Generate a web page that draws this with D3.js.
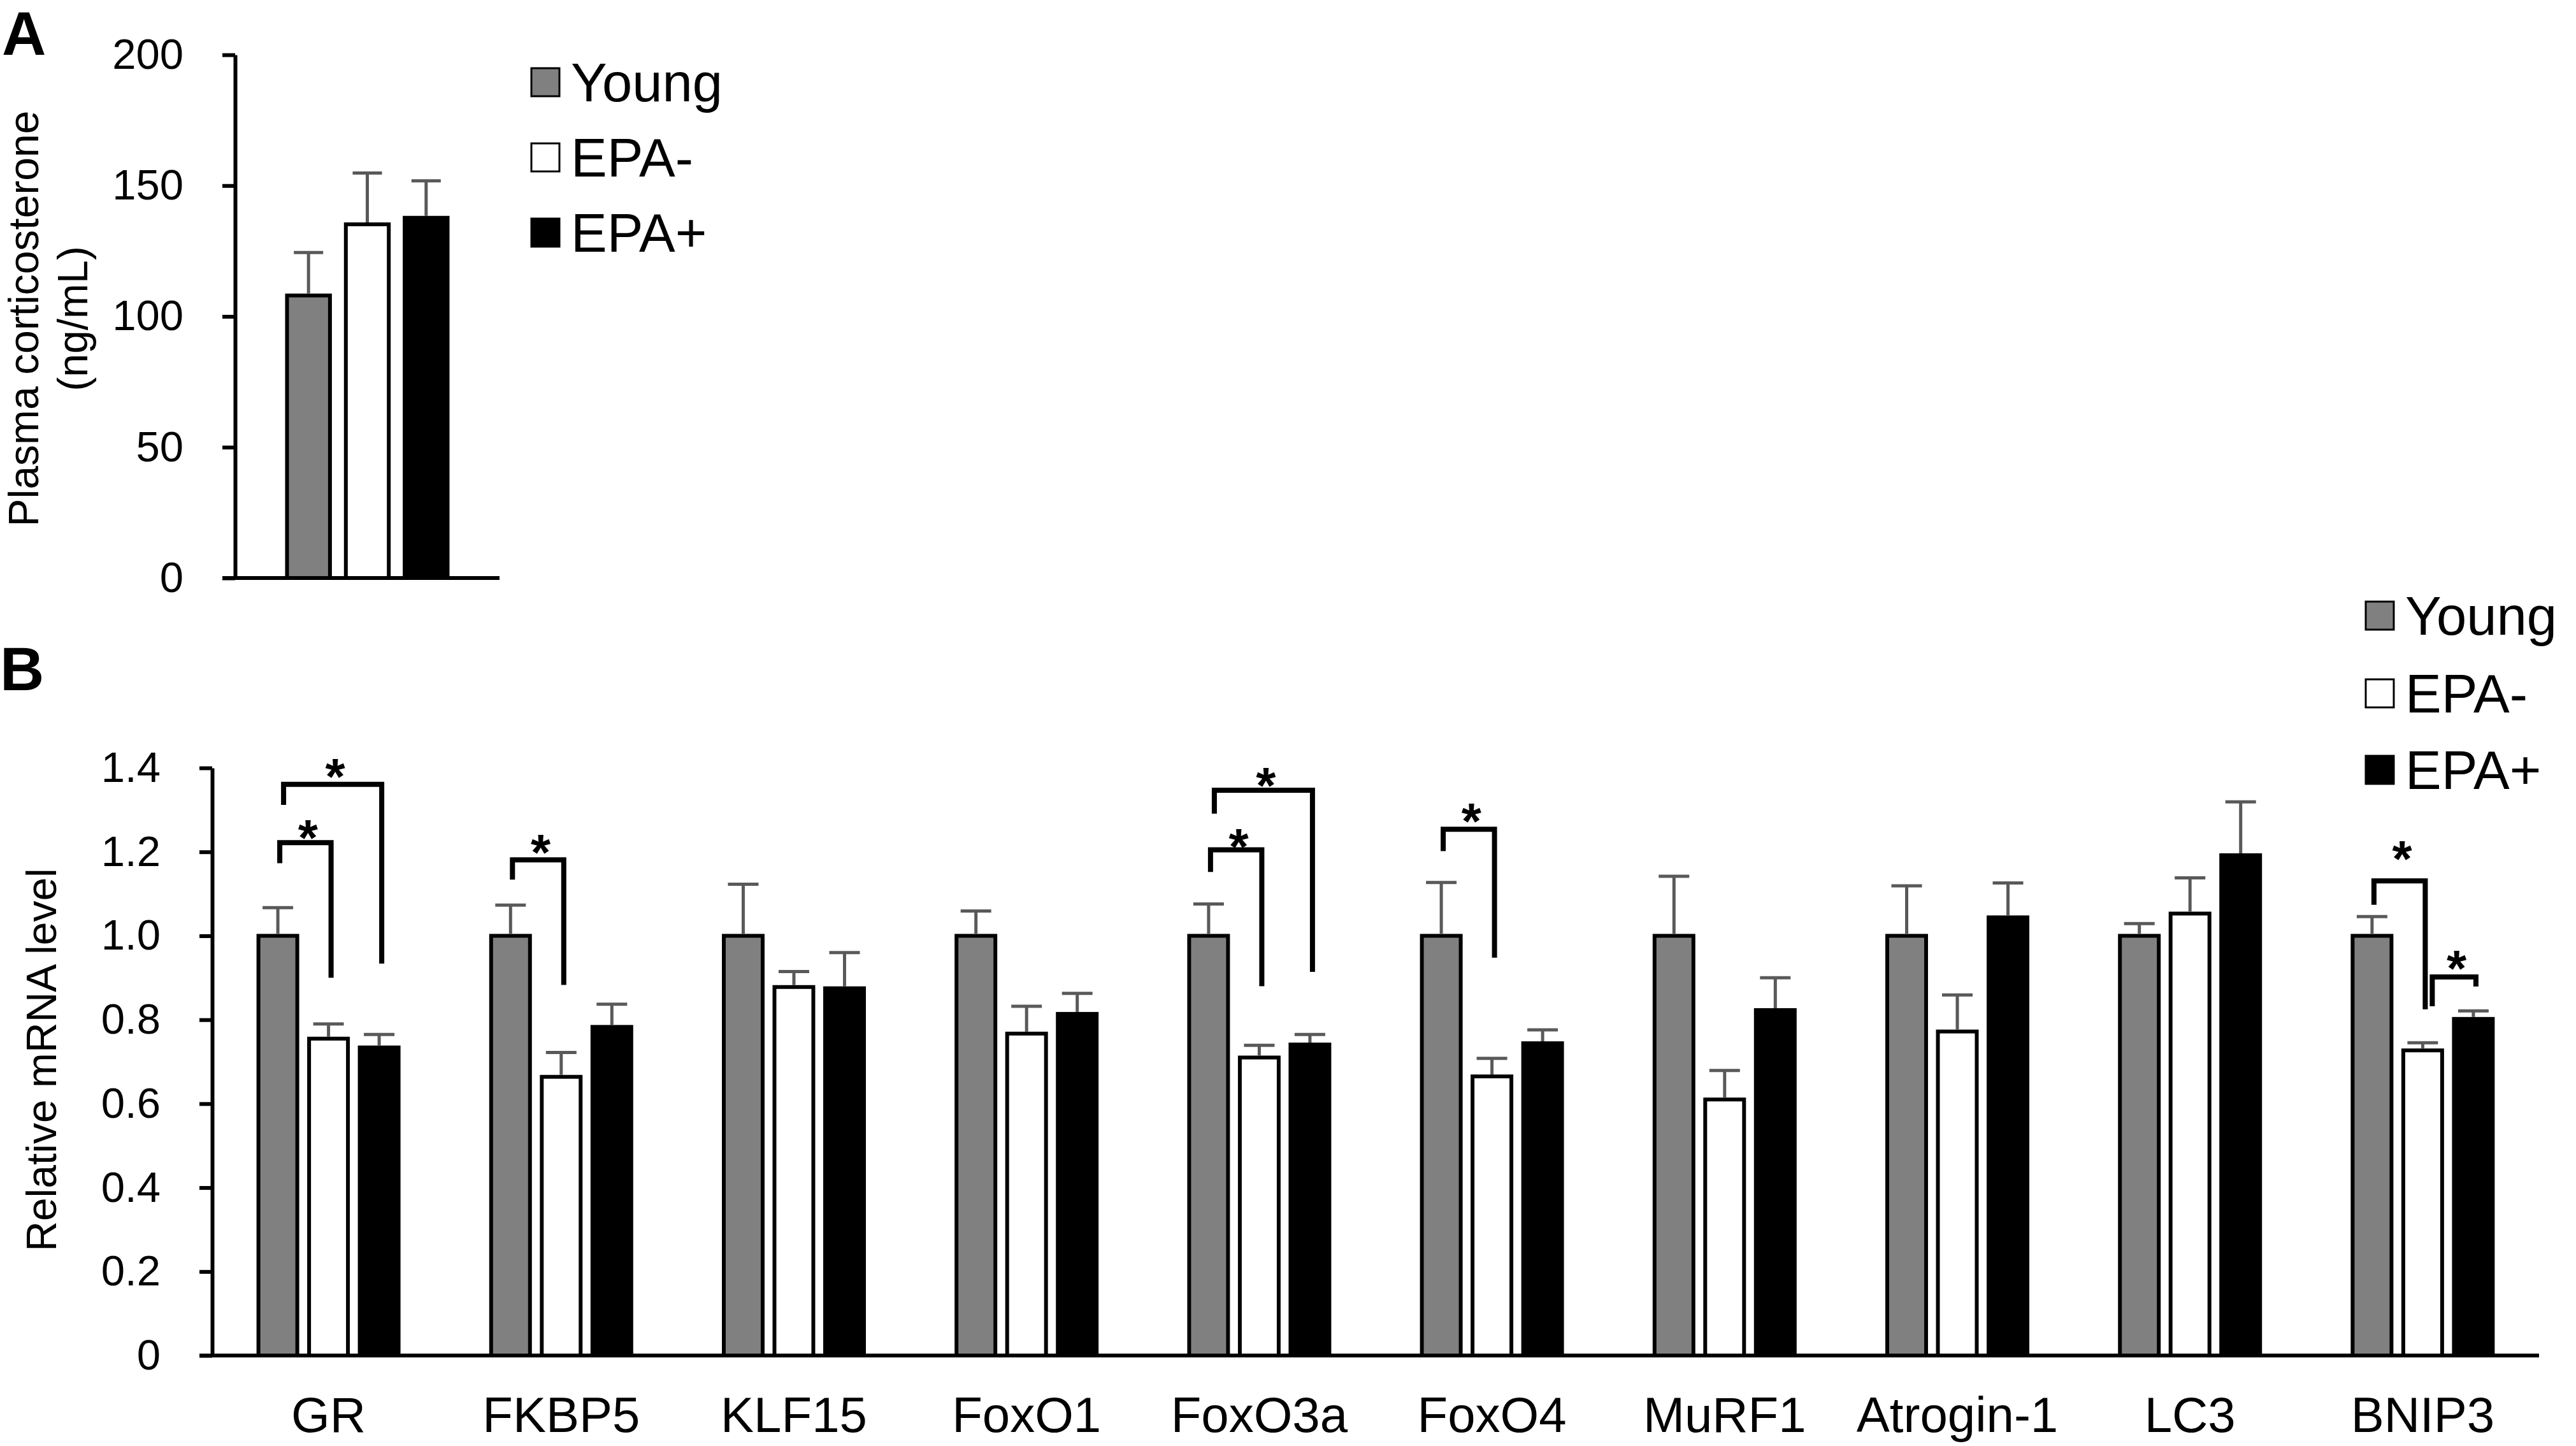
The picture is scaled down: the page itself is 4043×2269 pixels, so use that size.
<!DOCTYPE html>
<html><head><meta charset="utf-8">
<script src="https://cdn.jsdelivr.net/npm/d3@7"></script>
<style>
body{margin:0;background:#fff}
svg{display:block;background:#fff}
text{font-family:"Liberation Sans",Arial,Helvetica,sans-serif;fill:#000}
</style>
</head><body>
<svg id="chart" width="4043" height="2269"></svg>
<script>
// ---------- DATA ----------
const series = ["Young", "EPA-", "EPA+"];

// Panel A: plasma corticosterone (ng/mL)
const aMeans = [108.0, 135.2, 137.7];
const aSE    = [16.4, 19.6, 14.1];
const aTicks = [0, 50, 100, 150, 200];

// Panel B: relative mRNA level
const genes = ["GR", "FKBP5", "KLF15", "FoxO1", "FoxO3a", "FoxO4", "MuRF1", "Atrogin-1", "LC3", "BNIP3"];
const youngMeans    = [1.00, 1.00, 1.00, 1.00, 1.00, 1.00, 1.00, 1.00, 1.00, 1.00];
const youngSE       = [0.067, 0.073, 0.123, 0.059, 0.076, 0.127, 0.142, 0.119, 0.029, 0.046];
const epaMinusMeans = [0.755, 0.664, 0.878, 0.767, 0.710, 0.665, 0.610, 0.772, 1.053, 0.727];
const epaMinusSE    = [0.035, 0.058, 0.037, 0.065, 0.029, 0.043, 0.069, 0.087, 0.085, 0.018];
const epaPlusMeans  = [0.734, 0.783, 0.875, 0.814, 0.741, 0.744, 0.823, 1.044, 1.192, 0.802];
const epaPlusSE     = [0.031, 0.054, 0.085, 0.049, 0.024, 0.032, 0.077, 0.082, 0.127, 0.019];
const bTicks = [0, 0.2, 0.4, 0.6, 0.8, 1.0, 1.2, 1.4];

// significance brackets (value units): from/to = series index
const brackets = [
  {gene: "GR",     from: 0, to: 1, top: 1.222, left: 1.173, right: 0.900, star: 1.259},
  {gene: "GR",     from: 0, to: 2, top: 1.361, left: 1.312, right: 0.934, star: 1.405},
  {gene: "FKBP5",  from: 0, to: 1, top: 1.181, left: 1.134, right: 0.883, star: 1.224},
  {gene: "FoxO3a", from: 0, to: 1, top: 1.205, left: 1.152, right: 0.880, star: 1.237},
  {gene: "FoxO3a", from: 0, to: 2, top: 1.347, left: 1.291, right: 0.914, star: 1.384},
  {gene: "FoxO4",  from: 0, to: 1, top: 1.254, left: 1.202, right: 0.948, star: 1.299},
  {gene: "BNIP3",  from: 0, to: 1, top: 1.131, left: 1.074, right: 0.825, star: 1.209},
  {gene: "BNIP3",  from: 1, to: 2, top: 0.902, left: 0.832, right: 0.879, star: 0.948}
];

// ---------- STYLE ----------
const fills = {"Young": "#808080", "EPA-": "#ffffff", "EPA+": "#000000"};
const errColor = "#595959";
const FONT_TICK = 67, FONT_TITLE = 66, FONT_CAT = 78, FONT_LEG = 85, FONT_PANEL = 96;

const svg = d3.select("#chart");
svg.append("rect").attr("width", 4043).attr("height", 2269).attr("fill", "#fff");

function styleAxis(g) {
  g.select(".domain").attr("stroke", "#000").attr("stroke-width", 6);
  g.selectAll(".tick line").attr("stroke", "#000").attr("stroke-width", 6);
  g.selectAll(".tick text").attr("font-size", FONT_TICK).attr("fill", "#000")
    .attr("font-family", '"Liberation Sans",Arial,sans-serif');
}

function drawLegend(x, ys) {
  const lg = svg.append("g");
  series.forEach((s, i) => {
    lg.append("rect").attr("x", x).attr("y", ys[i]).attr("width", 44).attr("height", 44)
      .attr("fill", fills[s]).attr("stroke", "#000").attr("stroke-width", 3);
    lg.append("text").attr("x", x + 62).attr("y", ys[i] + 22 + 0.358 * FONT_LEG)
      .attr("font-size", FONT_LEG).text(s);
  });
}

// ---------- PANEL A ----------
{
  const yA = d3.scaleLinear().domain([0, 200]).range([907, 86]);
  const xA = d3.scaleBand().domain(["corticosterone"]).range([369, 784]);
  const cx = xA("corticosterone") + xA.bandwidth() / 2;
  const x1 = d3.scaleBand().domain(series).range([cx - 126, cx + 126]).paddingInner(0.27);
  const g = svg.append("g");

  const data = series.map((s, i) => ({s, v: aMeans[i], e: aSE[i]}));
  g.selectAll("rect.bar").data(data).join("rect").attr("class", "bar")
    .attr("x", d => x1(d.s)).attr("width", x1.bandwidth())
    .attr("y", d => yA(d.v)).attr("height", d => yA(0) - yA(d.v))
    .attr("fill", d => fills[d.s]).attr("stroke", "#000").attr("stroke-width", 6);

  data.forEach(d => {
    const mx = x1(d.s) + x1.bandwidth() / 2;
    g.append("line").attr("x1", mx).attr("x2", mx).attr("y1", yA(d.v) - 3).attr("y2", yA(d.v + d.e))
      .attr("stroke", errColor).attr("stroke-width", 5);
    g.append("line").attr("x1", mx - 23).attr("x2", mx + 23).attr("y1", yA(d.v + d.e)).attr("y2", yA(d.v + d.e))
      .attr("stroke", errColor).attr("stroke-width", 5);
  });

  const ax = g.append("g").attr("transform", "translate(369,0)")
    .call(d3.axisLeft(yA).tickValues(aTicks).tickSize(20).tickSizeOuter(0).tickPadding(61).tickFormat(d3.format("d")));
  styleAxis(ax);
  g.append("line").attr("x1", 349).attr("x2", 784).attr("y1", yA(0)).attr("y2", yA(0))
    .attr("stroke", "#000").attr("stroke-width", 6);

  svg.append("text").attr("transform", "translate(60,500) rotate(-90)").attr("text-anchor", "middle")
    .attr("font-size", FONT_TITLE).text("Plasma corticosterone");
  svg.append("text").attr("transform", "translate(137,500) rotate(-90)").attr("text-anchor", "middle")
    .attr("font-size", FONT_TITLE).text("(ng/mL)");
  svg.append("text").attr("x", 3).attr("y", 86).attr("font-size", FONT_PANEL).attr("font-weight", "bold").text("A");
  drawLegend(834, [107, 225, 343]);
}

// ---------- PANEL B ----------
{
  const yB = d3.scaleLinear().domain([0, 1.4]).range([2127, 1205]);
  const xB = d3.scaleBand().domain(genes).range([333, 3985]);
  const x1 = d3.scaleBand().domain(series).range([-110, 110]).paddingInner(0.233);
  const g = svg.append("g");
  const means = [youngMeans, epaMinusMeans, epaPlusMeans];
  const ses = [youngSE, epaMinusSE, epaPlusSE];
  const barCenter = (gene, si) => xB(gene) + xB.bandwidth() / 2 + x1(series[si]) + x1.bandwidth() / 2;

  const data = [];
  genes.forEach((gene, gi) => series.forEach((s, si) => data.push({gene, s, si, v: means[si][gi], e: ses[si][gi]})));

  g.selectAll("rect.bar").data(data).join("rect").attr("class", "bar")
    .attr("x", d => xB(d.gene) + xB.bandwidth() / 2 + x1(d.s)).attr("width", x1.bandwidth())
    .attr("y", d => yB(d.v)).attr("height", d => yB(0) - yB(d.v))
    .attr("fill", d => fills[d.s]).attr("stroke", "#000").attr("stroke-width", 6);

  data.forEach(d => {
    const mx = barCenter(d.gene, d.si);
    g.append("line").attr("x1", mx).attr("x2", mx).attr("y1", yB(d.v) - 3).attr("y2", yB(d.v + d.e))
      .attr("stroke", errColor).attr("stroke-width", 5);
    g.append("line").attr("x1", mx - 24).attr("x2", mx + 24).attr("y1", yB(d.v + d.e)).attr("y2", yB(d.v + d.e))
      .attr("stroke", errColor).attr("stroke-width", 5);
  });

  // brackets
  brackets.forEach(b => {
    const dxL = (b.to - b.from === 2) ? 9 : (b.from === 1 ? 15 : 3);
    const xL = barCenter(b.gene, b.from) + dxL;
    const xR = barCenter(b.gene, b.to) + 4;
    g.append("path")
      .attr("d", `M${xL},${yB(b.left)}V${yB(b.top)}H${xR}V${yB(b.right)}`)
      .attr("fill", "none").attr("stroke", "#000").attr("stroke-width", 8).attr("stroke-linejoin", "miter");
    g.append("text").attr("x", (xL + xR) / 2 + 4).attr("y", yB(b.star) + 44)
      .attr("text-anchor", "middle").attr("font-size", 80).attr("font-weight", "bold").text("*");
  });

  const ax = g.append("g").attr("transform", "translate(333,0)")
    .call(d3.axisLeft(yB).tickValues(bTicks).tickSize(20).tickSizeOuter(0).tickPadding(61)
      .tickFormat(d => d === 0 ? "0" : d.toFixed(1)));
  styleAxis(ax);
  g.append("line").attr("x1", 313).attr("x2", 3985).attr("y1", yB(0)).attr("y2", yB(0))
    .attr("stroke", "#000").attr("stroke-width", 6);

  g.selectAll("text.cat").data(genes).join("text").attr("class", "cat")
    .attr("x", d => xB(d) + xB.bandwidth() / 2).attr("y", 2247)
    .attr("text-anchor", "middle").attr("font-size", FONT_CAT).text(d => d);

  svg.append("text").attr("transform", "translate(88,1663) rotate(-90)").attr("text-anchor", "middle")
    .attr("font-size", FONT_TITLE).text("Relative mRNA level");
  svg.append("text").attr("x", 0).attr("y", 1083).attr("font-size", FONT_PANEL).attr("font-weight", "bold").text("B");
  drawLegend(3713, [944, 1066, 1186]);
}
</script>
</body></html>
